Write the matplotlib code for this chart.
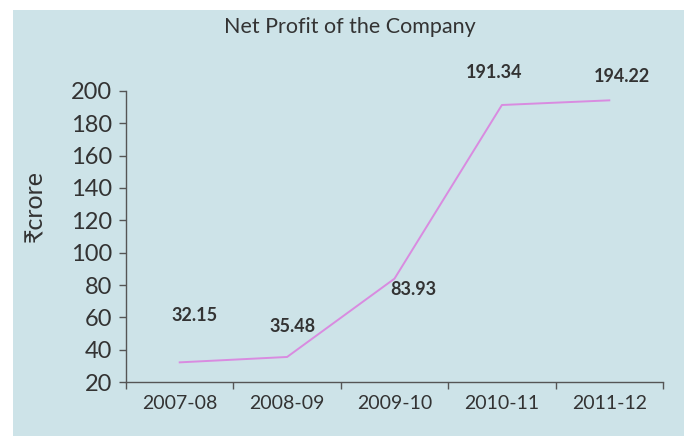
import matplotlib.pyplot as plt
from matplotlib.patches import Rectangle

years = ["2007-08", "2008-09", "2009-10", "2010-11", "2011-12"]
profit = [32.15, 35.48, 83.93, 191.34, 194.22]
yticks = [20, 40, 60, 80, 100, 120, 140, 160, 180, 200]

# label offsets in pixels, relative to each point
offsets = [(15, 47), (5, 30), (19, -11), (-8, 33), (13, 24)]

plt.rcParams['font.family'] = ['Lato', 'DejaVu Sans']
txt = '#333333'

fig = plt.figure(figsize=(6.88, 4.36), dpi=100, facecolor='white')
fig.patches.append(Rectangle((13/688, 0), (684-13)/688, (436-10)/436,
                             transform=fig.transFigure, facecolor='#cde3e8',
                             edgecolor='none', zorder=-10))

ax = fig.add_axes([126/688, 1-382/436, (663-126)/688, (382-91)/436])
ax.set_facecolor('none')
ax.set_zorder(1)

x = list(range(len(years)))
ax.plot(x, profit, color='#d98be0', lw=1.4)

for i, v in enumerate(profit):
    ax.annotate(f"{v:.2f}", (x[i], v), xytext=offsets[i], textcoords='offset pixels',
                ha='center', va='center', fontsize=13, fontweight='bold', color=txt)

ax.set_xlim(-0.5, len(years)-0.5)
ax.set_ylim(20, 200)
ax.set_yticks(yticks)
ax.set_xticks([i - 0.5 for i in range(len(years)+1)])
ax.set_xticklabels([])
ax.set_xticks(x, minor=True)
ax.set_xticklabels(years, minor=True)
ax.tick_params(axis='x', which='major', length=5, color='#555555', width=1)
ax.tick_params(axis='x', which='minor', length=0, pad=9, labelsize=14, labelcolor=txt)
ax.tick_params(axis='y', length=5, color='#555555', width=1, labelsize=17, labelcolor=txt, pad=5)

for s in ['top', 'right']:
    ax.spines[s].set_visible(False)
for s in ['left', 'bottom']:
    ax.spines[s].set_color('#555555')
    ax.spines[s].set_linewidth(1)

fig.text(34/688, 1-206/436, "₹crore", rotation=90, ha='center', va='center',
         fontsize=18, color=txt)
fig.text(350/688, 1-27/436, "Net Profit of the Company", ha='center', va='center',
         fontsize=15.5, color=txt)

plt.savefig("out.png", dpi=100)
plt.close()
